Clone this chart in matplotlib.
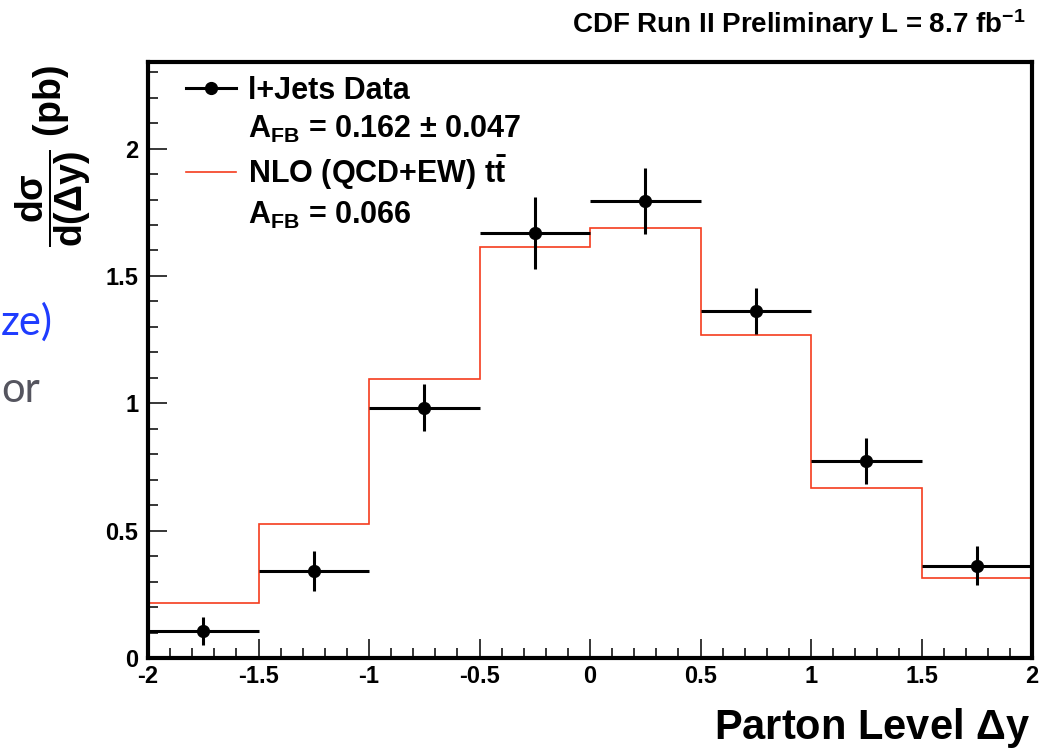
import numpy as np
import matplotlib
matplotlib.use("Agg")
import matplotlib.pyplot as plt
from matplotlib.lines import Line2D
from matplotlib.ticker import MultipleLocator, FuncFormatter

plt.rcParams['font.family'] = ['Liberation Sans', 'DejaVu Sans']
plt.rcParams['font.weight'] = 'bold'
plt.rcParams['axes.unicode_minus'] = False
plt.rcParams['mathtext.fontset'] = 'custom'
plt.rcParams['mathtext.rm'] = 'Liberation Sans:bold'
plt.rcParams['mathtext.it'] = 'Liberation Sans:bold'
plt.rcParams['mathtext.bf'] = 'Liberation Sans:bold'
plt.rcParams['mathtext.sf'] = 'Liberation Sans:bold'

# Bin edges in parton level delta y
edges = [-2.0, -1.5, -1.0, -0.5, 0.0, 0.5, 1.0, 1.5, 2.0]
centers = [-1.75, -1.25, -0.75, -0.25, 0.25, 0.75, 1.25, 1.75]

# l+jets data (pb)
data_vals = [0.107, 0.343, 0.982, 1.669, 1.795, 1.361, 0.773, 0.363]
data_errs = [0.055, 0.078, 0.092, 0.140, 0.130, 0.090, 0.090, 0.078]

# NLO (QCD+EW) prediction (pb)
nlo_vals = [0.217, 0.525, 1.097, 1.613, 1.688, 1.270, 0.667, 0.316]

red = '#f53c1e'

fig = plt.figure(figsize=(10.51, 7.49), dpi=100)
ax = fig.add_axes([148 / 1051, 1 - 658 / 749, (1032 - 148) / 1051, (658 - 62) / 749])

ax.stairs(nlo_vals, edges, baseline=0, color=red, lw=1.2, zorder=2)
ax.errorbar(centers, data_vals, xerr=0.25, yerr=data_errs, fmt='o', color='black',
            ms=8.5, elinewidth=2.2, capsize=0, zorder=3)

ax.set_xlim(-2, 2)
ax.set_ylim(0, 2.34)

ax.xaxis.set_major_locator(MultipleLocator(0.5))
ax.xaxis.set_minor_locator(MultipleLocator(0.1))
ax.yaxis.set_major_locator(MultipleLocator(0.5))
ax.yaxis.set_minor_locator(MultipleLocator(0.1))
fmt = FuncFormatter(lambda v, p: '%g' % v)
ax.xaxis.set_major_formatter(fmt)
ax.yaxis.set_major_formatter(fmt)
ax.tick_params(which='both', direction='in', top=False, right=False, width=1.1,
               labelsize=17)
ax.tick_params(which='major', length=14)
ax.tick_params(which='minor', length=7)
ax.tick_params(axis='y', pad=7)
ax.tick_params(axis='x', pad=5)
for lab in ax.get_xticklabels() + ax.get_yticklabels():
    lab.set_fontweight('bold')
for sp in ax.spines.values():
    sp.set_linewidth(3)

# legend
h_data = Line2D([], [], color='black', marker='o', ms=8.5, lw=2.2)
h_nlo = Line2D([], [], color=red, lw=1.2)
h_blank = Line2D([], [], color='none')
labels = ['l+Jets Data',
          r'A$_{\mathregular{FB}}$ = 0.162 $\pm$ 0.047',
          r'NLO (QCD+EW) $t\bar{t}$',
          r'A$_{\mathregular{FB}}$ = 0.066']
leg = ax.legend([h_data, h_blank, h_nlo, h_blank], labels, loc='upper left',
                bbox_to_anchor=(0.027, 1.0),
                frameon=False, fontsize=22, handlelength=1.65, handletextpad=0.4,
                labelspacing=0.26, borderaxespad=0.15, borderpad=0.3)
for t in leg.get_texts():
    t.set_fontweight('bold')

fig.text(1025 / 1051, 1 - 24 / 749, r'CDF Run II Preliminary L = 8.7 fb$^{\mathregular{-1}}$',
         ha='right', va='center', fontsize=20, fontweight='bold')
fig.text(1030 / 1051, 1 - 728 / 749, 'Parton Level $\\Delta$y', ha='right', va='center',
         fontsize=30, fontweight='bold')
fig.text(53 / 1051, 1 - 156 / 749, r'$\dfrac{d\sigma}{d(\Delta y)}$ (pb)', rotation=90,
         ha='center', va='center', fontsize=27, fontweight='bold')

# slide text cut off at the left edge
fig.text(1 / 1051, 1 - 322 / 749, 'ze)', ha='left', va='center', fontsize=30,
         color='#1f3cff', family='Lato', fontweight='normal')
fig.text(1 / 1051, 1 - 390 / 749, 'or', ha='left', va='center', fontsize=30,
         color='#55555f', family='Lato', fontweight='normal')

fig.savefig('out.png', dpi=100)
